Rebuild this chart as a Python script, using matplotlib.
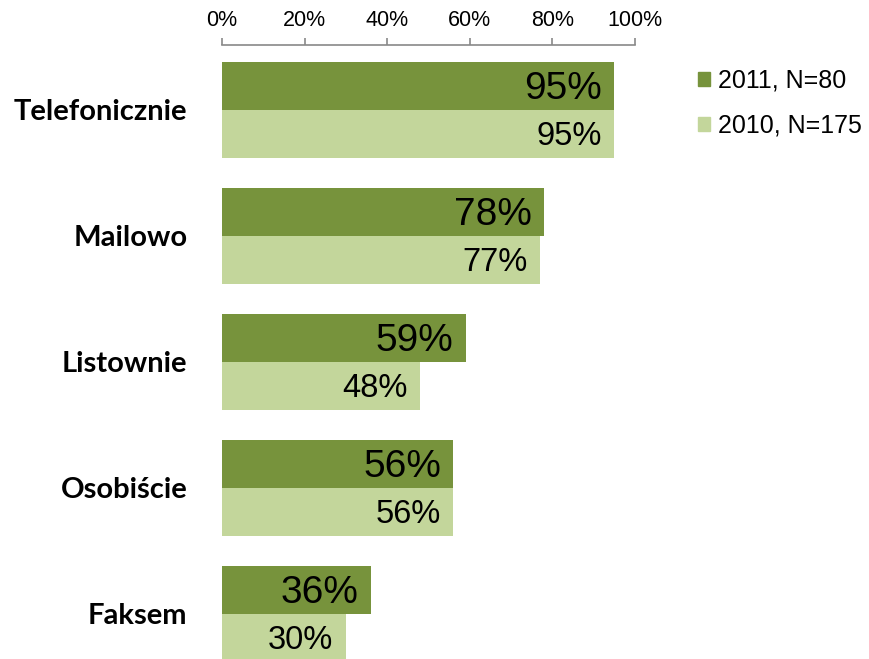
import matplotlib.pyplot as plt
from matplotlib.patches import Patch

categories = ['Telefonicznie', 'Mailowo', 'Listownie', 'Osobiście', 'Faksem']
values_2011 = [95, 78, 59, 56, 36]
values_2010 = [95, 77, 48, 56, 30]
series_names = ['2011, N=80', '2010, N=175']
ticks = [0, 20, 40, 60, 80, 100]

dark = '#77933C'
light = '#C3D69B'
W, H = 869, 659

fig = plt.figure(figsize=(W / 100, H / 100), dpi=100)
ax = fig.add_axes([222 / W, 0, (635 - 222) / W, (H - 45) / H])

bh = 48 / 126
for i, cat in enumerate(categories):
    ax.barh(i - bh / 2, values_2011[i], height=bh, color=dark)
    ax.barh(i + bh / 2, values_2010[i], height=bh, color=light)
    ax.text(values_2011[i] - 3.0, i - bh / 2 + 0.02, f'{values_2011[i]}%', ha='right', va='center',
            fontsize=28, family='Liberation Sans', color='black')
    ax.text(values_2010[i] - 3.0, i + bh / 2 + 0.02, f'{values_2010[i]}%', ha='right', va='center',
            fontsize=23.5, family='Liberation Sans', color='black')

ax.set_xlim(0, 100)
ax.set_ylim(4 + 45 / 126, -bh - 17 / 126)
ax.set_yticks(range(len(categories)))
ax.set_yticklabels(categories, family='Lato', fontweight='bold', fontsize=21)
ax.tick_params(axis='y', length=0, pad=25)

ax.xaxis.tick_top()
ax.set_xticks(ticks)
ax.set_xticklabels([f'{t}%' for t in ticks], family='Liberation Sans', fontsize=15.5)
ax.tick_params(axis='x', length=5, color='#898989', width=1.2, pad=5)

for s in ['right', 'bottom', 'left']:
    ax.spines[s].set_visible(False)
ax.spines['top'].set_color('#898989')
ax.spines['top'].set_linewidth(1.2)

handles = [Patch(color=dark), Patch(color=light)]
fig.legend(handles, series_names, loc='upper left', bbox_to_anchor=(675 / W, 1 - 46 / H),
           frameon=False, prop={'family': 'Liberation Sans', 'size': 18},
           handlelength=0.5, handleheight=0.5, handletextpad=0.3, labelspacing=0.85)

fig.savefig('out.png', dpi=100)
